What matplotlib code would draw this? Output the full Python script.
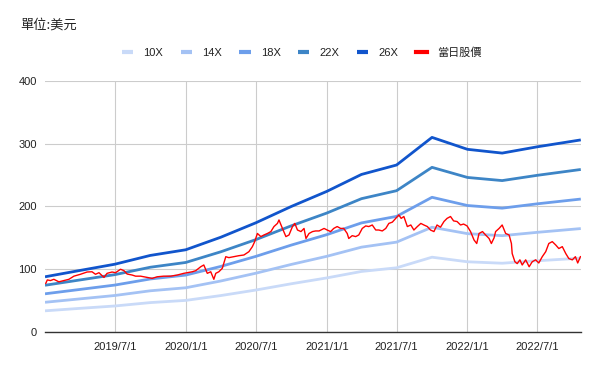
import matplotlib
matplotlib.use("Agg")
import matplotlib.pyplot as plt
import pandas as pd

plt.rcParams['font.family'] = ['Liberation Sans', 'Noto Sans CJK TC', 'DejaVu Sans']

# ---- band data (quarterly) ----
band_dates = ["2019-01-01", "2019-04-01", "2019-07-01", "2019-10-01",
              "2020-01-01", "2020-04-01", "2020-07-01", "2020-10-01",
              "2021-01-01", "2021-04-01", "2021-07-01", "2021-10-01",
              "2022-01-01", "2022-04-01", "2022-07-01", "2022-10-22"]
pe10 = [33.8, 37.7, 41.5, 46.9, 50.4, 58.1, 66.9, 76.9, 86.2, 96.5, 102.3, 119.2, 111.9, 109.6, 113.5, 117.7]
pe14 = [47.4, 52.8, 58.2, 65.7, 70.5, 81.3, 93.7, 107.7, 120.6, 135.2, 143.2, 166.9, 156.7, 153.5, 158.8, 164.8]
pe18 = [60.9, 67.8, 74.8, 84.5, 90.7, 104.5, 120.5, 138.5, 155.1, 173.8, 184.2, 214.6, 201.5, 197.3, 204.2, 211.8]
pe22 = [74.5, 82.9, 91.4, 103.2, 110.8, 127.8, 147.2, 169.2, 189.5, 212.4, 225.1, 262.3, 246.2, 241.2, 249.6, 258.9]
pe26 = [88, 98, 108, 122, 131, 151, 174, 200, 224, 251, 266, 310, 291, 285, 295, 306]

# ---- daily price (sampled) ----
price_dates = [
    "2019-01-03", "2019-01-07", "2019-01-15", "2019-01-24", "2019-02-06", "2019-02-19",
    "2019-03-04", "2019-03-17", "2019-04-03", "2019-04-20", "2019-05-03", "2019-05-12",
    "2019-05-21", "2019-06-03", "2019-06-11", "2019-06-24", "2019-07-03", "2019-07-16",
    "2019-07-25", "2019-08-02", "2019-08-15", "2019-08-24", "2019-09-06", "2019-09-23",
    "2019-10-06", "2019-10-19", "2019-11-05", "2019-11-23", "2019-12-10", "2019-12-27",
    "2020-01-05", "2020-01-18", "2020-01-27", "2020-02-09", "2020-02-17", "2020-02-26",
    "2020-03-06", "2020-03-14", "2020-03-19", "2020-03-27", "2020-04-05", "2020-04-14",
    "2020-04-22", "2020-05-05", "2020-05-18", "2020-05-31", "2020-06-13", "2020-06-22",
    "2020-06-28", "2020-07-05", "2020-07-14", "2020-07-22", "2020-07-31", "2020-08-09",
    "2020-08-17", "2020-08-26", "2020-08-30", "2020-09-08", "2020-09-17", "2020-09-25",
    "2020-10-04", "2020-10-10", "2020-10-17", "2020-10-26", "2020-11-03", "2020-11-08",
    "2020-11-16", "2020-11-25", "2020-12-03", "2020-12-12", "2020-12-25", "2021-01-02",
    "2021-01-11", "2021-01-19", "2021-01-28", "2021-02-06", "2021-02-14", "2021-02-23",
    "2021-02-27", "2021-03-08", "2021-03-17", "2021-03-25", "2021-04-03", "2021-04-12",
    "2021-04-20", "2021-04-29", "2021-05-08", "2021-05-16", "2021-05-25", "2021-06-03",
    "2021-06-11", "2021-06-20", "2021-06-29", "2021-07-07", "2021-07-13", "2021-07-20",
    "2021-07-29", "2021-08-07", "2021-08-15", "2021-08-24", "2021-09-02", "2021-09-10",
    "2021-09-19", "2021-09-27", "2021-10-06", "2021-10-14", "2021-10-23", "2021-11-01",
    "2021-11-09", "2021-11-18", "2021-11-26", "2021-12-05", "2021-12-14", "2021-12-22",
    "2021-12-31", "2022-01-09", "2022-01-18", "2022-01-25", "2022-01-31", "2022-02-09",
    "2022-02-17", "2022-02-26", "2022-03-04", "2022-03-11", "2022-03-15", "2022-03-24",
    "2022-04-01", "2022-04-10", "2022-04-19", "2022-04-25", "2022-04-27", "2022-05-04",
    "2022-05-10", "2022-05-17", "2022-05-23", "2022-06-01", "2022-06-10", "2022-06-18",
    "2022-06-27", "2022-07-05", "2022-07-14", "2022-07-23", "2022-07-31", "2022-08-09",
    "2022-08-18", "2022-08-26", "2022-09-04", "2022-09-13", "2022-09-21", "2022-09-30",
    "2022-10-08", "2022-10-14", "2022-10-21"]
price = [
    77.6, 83, 82, 84, 80, 82,
    84, 89, 92, 95.6, 96, 92,
    94.5, 87, 93.5, 95.6, 94.5, 100,
    97.7, 92.4, 90.8, 89, 89, 87,
    85.5, 88, 89, 89, 90.8, 93.5,
    94.5, 96, 97.7, 104, 106.8, 93.5,
    96, 84, 93.5, 96, 101.5, 120,
    118.5, 120, 121.6, 122.7, 128, 136,
    144, 157, 152, 154.6, 157, 160,
    168, 173, 178.5, 165, 152, 154.6,
    168, 173, 162.5, 160, 165, 149,
    157, 160, 161, 161, 165, 162.5,
    160, 165, 168, 165, 165, 157,
    149, 153.5, 152, 154.6, 165, 169,
    168, 170.5, 162.5, 162.5, 161, 165,
    173, 175, 181, 186.5, 181, 184,
    168, 170.5, 162.5, 168, 173, 170.5,
    168, 162.5, 160, 170.5, 167, 176,
    181, 184, 177, 176, 170.5, 172,
    169, 160, 146.6, 141, 157, 160,
    154.6, 149, 141, 150, 160, 165,
    170.5, 157, 154.6, 141, 125, 112,
    109, 115, 106.8, 115, 104, 112,
    115, 110, 120, 128, 141, 144,
    138.6, 133, 136, 125, 117, 115,
    120, 110, 120]

xtick_dates = ["2019-07-01", "2020-01-01", "2020-07-01", "2021-01-01",
               "2021-07-01", "2022-01-01", "2022-07-01"]
xtick_labels = ["2019/7/1", "2020/1/1", "2020/7/1", "2021/1/1",
                "2021/7/1", "2022/1/1", "2022/7/1"]
yticks = [0, 100, 200, 300, 400]

series = [("10X", pe10, "#c9daf8"), ("14X", pe14, "#a4c2f4"),
          ("18X", pe18, "#6d9eeb"), ("22X", pe22, "#3d85c6"),
          ("26X", pe26, "#1155cc")]

bd = pd.to_datetime(band_dates)
pd_ = pd.to_datetime(price_dates)

fig = plt.figure(figsize=(6.0, 3.71), dpi=100)
ax = fig.add_axes([0.075, 0.105, 0.893, 0.677])

for name, vals, col in series:
    ax.plot(bd, vals, color=col, lw=2.0, label=name, solid_capstyle='butt', zorder=3)
ax.plot(pd_, price, color="#ff0000", lw=1.0, label="當日股價", zorder=4)

ax.set_ylim(0, 400)
ax.set_xlim(pd.Timestamp("2019-01-01"), pd.Timestamp("2022-10-22"))
ax.set_yticks(yticks)
ax.set_xticks(pd.to_datetime(xtick_dates))
ax.set_xticklabels(xtick_labels)
ax.grid(True, color="#cccccc", lw=0.8, zorder=0)
ax.set_axisbelow(True)
for s in ["left", "right", "top"]:
    ax.spines[s].set_visible(False)
ax.spines["bottom"].set_color("#333333")
ax.spines["bottom"].set_linewidth(1.0)
ax.spines["bottom"].set_zorder(5)
ax.tick_params(axis="both", length=0, labelsize=8, colors="#222222")
ax.tick_params(axis="x", pad=7)
ax.tick_params(axis="y", pad=6)

fig.text(0.033, 0.932, "單位:美元", fontsize=9.5, color="#222222",
         ha="left", va="center", family=['Noto Sans CJK TC', 'DejaVu Sans'])

leg = fig.legend(loc="center", bbox_to_anchor=(0.503, 0.857), ncol=6, frameon=False,
                 fontsize=8, handlelength=1.0, handletextpad=0.9, columnspacing=1.6,
                 labelcolor="#222222")
for h in leg.get_lines():
    h.set_linewidth(3.0)

fig.savefig("out.png", dpi=100)
